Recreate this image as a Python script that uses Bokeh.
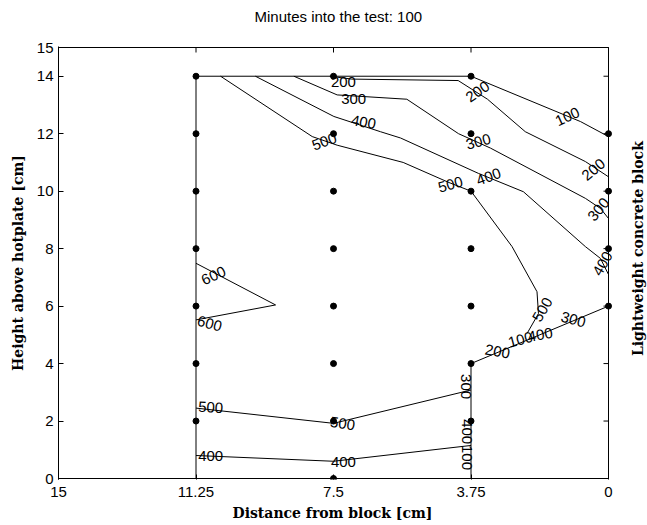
import math
from bokeh.plotting import figure
from bokeh.models import Range1d, FixedTicker, ColumnDataSource, Title
from bokeh.embed import file_html
from bokeh.resources import INLINE
from bokeh.core.properties import value

# ---------------- data ----------------
title_text = "Minutes into the test: 100"
x_label = "Distance from block [cm]"
y_label = "Height above hotplate [cm]"
right_label = "Lightweight concrete block"
x_ticks = [15, 11.25, 7.5, 3.75, 0]
x_tick_labels = ["15", "11.25", "7.5", "3.75", "0"]
y_ticks = [0, 2, 4, 6, 8, 10, 12, 14, 15]

# thermocouple positions
pt_x = [11.25] * 7 + [7.5] * 8 + [3.75] * 7 + [0] * 4
pt_y = [2, 4, 6, 8, 10, 12, 14] + [0, 2, 4, 6, 8, 10, 12, 14] + [2, 4, 6, 8, 10, 12, 14] + [6, 8, 10, 12]

# data boundary
edge_x = [11.25, 11.25, 3.75]
edge_y = [0, 14, 14]

# isotherms (temperature levels, polylines)
contour_levels = [100, 200, 300, 400, 500, 600]
c100a_x = [3.75, 0.76, 0]
c100a_y = [14, 12.42, 11.9]
shared_x = [3.75, 3.75, 0]          # 100/200/300/400 collapse onto this path
shared_y = [0, 4, 6]
c200a_x = [7.6, 7.0, 4.1, 3.3, 2.27, 0.63, 0]
c200a_y = [14, 13.9, 13.85, 13.2, 12.07, 11.03, 10.5]
c300a_x = [8.58, 7.4, 5.5, 4.09, 3.22, 0.63, 0.22, 0]
c300a_y = [14, 13.35, 13.2, 12.0, 11.5, 9.75, 9.4, 9.05]
c400a_x = [9.63, 7.49, 6.22, 5.67, 3.55, 2.32, 0.63, 0.22, 0]
c400a_y = [14, 12.6, 12.07, 11.85, 10.62, 9.98, 8.07, 7.66, 7.1]
c400b_x = [11.25, 7.5, 3.75]
c400b_y = [0.8, 0.6, 1.15]
c500a_x = [10.58, 8.08, 7.4, 5.6, 4.35, 3.75, 2.63, 1.95, 1.91, 2.22]
c500a_y = [14, 11.9, 11.6, 11.0, 10.3, 10, 8.07, 6.5, 5.74, 5.05]
c500b_x = [11.25, 7.5, 3.75]
c500b_y = [2.45, 1.92, 3.08]
c600_x = [11.25, 9.08, 11.25]
c600_y = [7.49, 6.04, 5.52]

# contour labels
lab_text = ["200", "300", "400", "500", "200", "100", "300", "200", "500", "400",
            "300", "400", "500", "100", "400", "200", "300", "600", "600",
            "500", "500", "400", "400", "300", "400", "100"]
lab_x = [7.23, 6.95, 6.68, 7.75, 3.57, 1.12, 3.55, 0.41, 4.31, 3.27,
         0.27, 0.16, 1.8, 2.40, 1.86, 3.03, 0.96, 10.77, 10.88,
         10.85, 7.25, 10.85, 7.23, 3.90, 3.87, 3.87]
lab_y = [13.8, 13.2, 12.4, 11.72, 13.46, 12.59, 11.72, 10.75, 10.23, 10.5,
         9.36, 7.48, 5.88, 4.83, 5.0, 4.42, 5.53, 7.06, 5.39,
         2.47, 1.91, 0.77, 0.59, 3.2, 1.63, 0.73]
lab_angle = [0, 0, -10, 20, 35, 25, 15, 40, 15, 20,
             50, 60, 60, 15, 10, -10, -15, 25, -15,
             -3, -8, 0, 0, -90, -90, -90]

# ---------------- figure ----------------
x_lo, x_hi = x_ticks[0], x_ticks[-1]
y_lo, y_hi = y_ticks[0], y_ticks[-1]
PX_X = 550 / (x_lo - x_hi)          # pixels per cm horizontally
PX_Y = 431 / (y_hi - y_lo)          # pixels per cm vertically
right_room = 39 / PX_X              # strip right of the box for the side label
pad_y = 1 / PX_Y

p = figure(frame_width=589, frame_height=433,
           x_range=Range1d(x_lo, x_hi - right_room),
           y_range=Range1d(y_lo - pad_y, y_hi + pad_y),
           output_backend="svg", toolbar_location=None,
           min_border_left=58, min_border_right=0,
           min_border_top=45, min_border_bottom=47,
           title=title_text + "\n")
p.background_fill_color = "white"
p.border_fill_color = "white"
p.outline_line_color = None
p.grid.visible = False

tick_font = "Liberation Sans"
lab_font = "DejaVu Serif"

p.title.align = "left"
p.title.offset = 196
p.title.text_font = tick_font
p.title.text_font_size = "15px"
p.title.text_font_style = "normal"
p.title.text_color = "black"
p.title.standoff = 10

for ax in (p.xaxis[0], p.yaxis[0]):
    ax.major_tick_in = 5
    ax.major_tick_out = 0
    ax.minor_tick_in = 0
    ax.minor_tick_out = 0
    ax.major_tick_line_color = "black"
    ax.major_label_text_font = tick_font
    ax.major_label_text_font_size = "15px"
    ax.major_label_text_color = "black"
    ax.axis_label_text_font = lab_font
    ax.axis_label_text_font_style = "bold"
    ax.axis_label_text_font_size = "14px"
    ax.axis_label_text_color = "black"

p.xaxis[0].ticker = FixedTicker(ticks=x_ticks)
p.xaxis[0].major_label_overrides = {t: s for t, s in zip(x_ticks, x_tick_labels)}
p.xaxis[0].axis_line_color = None
p.xaxis[0].major_label_standoff = 7
p.yaxis[0].ticker = FixedTicker(ticks=y_ticks)
p.yaxis[0].axis_label = y_label
p.yaxis[0].axis_line_color = "black"
p.yaxis[0].major_label_standoff = 5
p.yaxis[0].axis_label_standoff = 8
p.yaxis[0].major_label_orientation = "horizontal"

# x-axis label as a below-title so it stays centred under the box
p.add_layout(Title(text=x_label, align="left", offset=174, standoff=7,
                   text_font=lab_font, text_font_style="bold", text_font_size="14px",
                   text_color="black"), "below")

# axes box
box_x = [x_lo, x_hi, x_hi, x_lo]
box_y = [y_lo, y_lo, y_hi, y_hi]
p.line(box_x, box_y, line_color="black", line_width=1)

# mirrored inward ticks on the top and right edges (5 px long)
p.segment(x0=[x_hi] * len(y_ticks), y0=y_ticks, x1=[x_hi + 5 / PX_X] * len(y_ticks), y1=y_ticks,
          line_color="black", line_width=1)
p.segment(x0=x_ticks, y0=[y_hi] * len(x_ticks), x1=x_ticks, y1=[y_hi - 5 / PX_Y] * len(x_ticks),
          line_color="black", line_width=1)

# lines
line_xs = [edge_x, c100a_x, shared_x, c200a_x, c300a_x,
           c400a_x, c400b_x, c500a_x, c500b_x, c600_x]
line_ys = [edge_y, c100a_y, shared_y, c200a_y, c300a_y,
           c400a_y, c400b_y, c500a_y, c500b_y, c600_y]
p.multi_line(line_xs, line_ys, line_color="black", line_width=1)

p.scatter(pt_x, pt_y, size=6, color="black")

src = ColumnDataSource(dict(x=lab_x, y=lab_y, text=lab_text, angle=lab_angle))
p.text(x="x", y="y", text="text", angle="angle", angle_units="deg", source=src,
       text_font=value(tick_font), text_font_size="15px", text_color="black",
       text_align="center", text_baseline="middle")

# side label in the strip right of the box
p.text(x=[x_hi - 29 / PX_X], y=[8.0], text=[right_label], angle=90, angle_units="deg",
       text_font=value(lab_font), text_font_style="bold", text_font_size="14px",
       text_color="black", text_align="center", text_baseline="middle")

open("out.html", "w").write(file_html(p, INLINE))
